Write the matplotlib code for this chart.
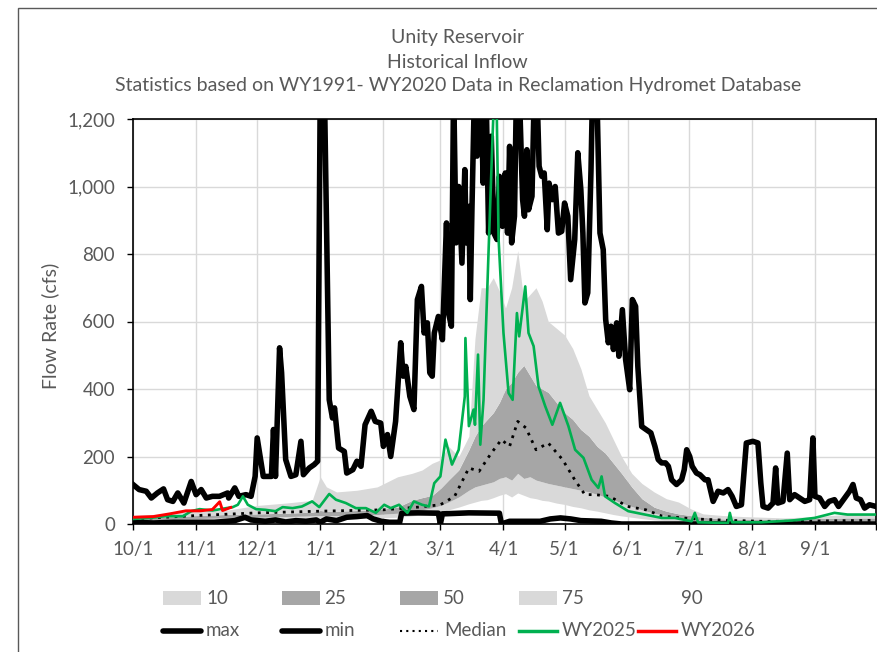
import matplotlib.pyplot as plt
from matplotlib.patches import Rectangle
from matplotlib.lines import Line2D

plt.rcParams['font.family'] = ['Lato', 'DejaVu Sans']

# day of water year (0 = 10/1)
month_days = [0, 31, 61, 92, 123, 151, 182, 212, 243, 273, 304, 335, 365]
month_labels = ['10/1', '11/1', '12/1', '1/1', '2/1', '3/1', '4/1', '5/1', '6/1', '7/1', '8/1', '9/1', '']

band_day = [0, 15, 31, 45, 61, 75, 88, 92, 95, 100, 110, 120, 130, 137, 142, 147, 151, 155, 160,
            165, 168, 171, 174, 177, 180, 183, 186, 189, 192, 195, 198, 201, 204, 208, 212, 216,
            220, 224, 228, 232, 236, 240, 245, 250, 256, 262, 268, 274, 280, 290, 300, 310, 320,
            335, 350, 365]
p10 = [5, 6, 8, 10, 12, 14, 15, 15, 15, 16, 17, 18, 20, 24, 27, 30, 35, 42, 50,
       60, 65, 70, 72, 78, 85, 90, 80, 92, 85, 78, 75, 70, 68, 62, 58, 52,
       48, 42, 38, 33, 28, 24, 20, 16, 12, 10, 8, 7, 6, 5, 4, 4, 5,
       5, 6, 6]
p25 = [10, 12, 16, 18, 20, 22, 24, 25, 25, 25, 27, 28, 32, 38, 42, 48, 55, 65, 80,
       100, 110, 115, 120, 125, 135, 140, 130, 150, 135, 140, 130, 125, 120, 115, 110, 105,
       100, 95, 88, 80, 72, 62, 52, 42, 32, 24, 16, 12, 10, 8, 7, 7, 8,
       9, 10, 10]
p75 = [18, 20, 25, 28, 30, 32, 35, 40, 38, 38, 40, 42, 50, 70, 78, 85, 105, 130, 160,
       220, 260, 290, 310, 330, 360, 400, 420, 450, 470, 440, 410, 400, 390, 360, 330, 310,
       280, 260, 230, 210, 180, 150, 110, 75, 50, 38, 30, 25, 20, 15, 14, 13, 14,
       16, 18, 18]
p90 = [25, 30, 38, 40, 55, 62, 70, 140, 110, 95, 100, 110, 140, 150, 160, 180, 190, 230, 200,
       260, 550, 700, 700, 730, 690, 640, 700, 810, 660, 680, 700, 660, 600, 580, 560, 520,
       460, 380, 340, 300, 250, 200, 150, 120, 95, 75, 65, 45, 30, 25, 22, 20, 18,
       22, 28, 28]

median_day = [0, 31, 61, 92, 123, 140, 151, 158, 165, 170, 176, 181, 185, 189, 193, 198, 204,
              211, 217, 222, 227, 234, 243, 252, 260, 276, 292, 309, 325, 365]
median = [15, 25, 33, 38, 42, 50, 57, 82, 166, 156, 210, 250, 230, 304, 285, 220, 240,
          191, 131, 87, 87, 82, 52, 42, 23, 15, 11, 8, 8, 11]

max_day = [0, 3, 6.5, 9, 12, 15, 17, 19.6, 22, 25, 28.6, 31, 33.5, 36, 39, 42.5, 46.5, 47, 50, 52,
           55.5, 58, 60, 61, 64, 68, 69, 70, 72, 73, 75, 77.6, 80, 82.5, 83.7, 86.6, 89, 90.7, 92,
           94, 96.4, 98, 99, 101, 103.8, 105, 108, 110, 112, 114, 117, 119, 121.7, 123, 125,
           126.6, 129, 131.5, 132.7, 134, 136, 138, 139.7, 141.7, 143, 144.6, 145.8, 147, 148,
           150, 152, 154, 155, 156.4, 157.5, 158.7, 160, 161.6, 163, 163.7, 165, 165.7, 166.5,
           167.8, 169, 169.8, 171, 172, 173.4, 174.7, 176, 177.3, 178.8, 180, 181.5, 182.9, 184,
           185, 186, 187.4, 188.4, 189.7, 191.4, 192.3, 193.5, 194.3, 196, 197.2, 198.4, 199.5,
           200.8, 202, 203.5, 204.4, 206, 207.4, 209, 210.6, 212, 213.6, 215, 217, 218.5, 220,
           221, 222, 223.4, 225, 225.8, 227.8, 229.4, 231, 232.2, 233.5, 234.8, 236, 237.6,
           238.7, 240.4, 242, 244, 245.3, 246.9, 248, 249.9, 252, 254.4, 256.4, 258, 259.7,
           261.6, 263, 264.6, 267, 269.5, 270.8, 272, 273.5, 274.7, 276.8, 278.5, 281, 282.5,
           285, 287.4, 290, 292.3, 294.3, 296.4, 298.9, 301.3, 304.5, 307, 308.4, 309.5, 312,
           314.4, 315.7, 316.8, 319.3, 321.4, 322.6, 325, 327.5, 330, 332.4, 334, 335, 337.3,
           339.8, 342, 344.6, 346.6, 349.6, 352, 353.7, 355.3, 357.4, 359.4, 361.8, 365]
max_flow = [117, 102, 97, 77, 92, 104, 72, 67, 92, 62, 126, 87, 102, 77, 82, 82, 92, 77, 107, 82,
            87, 82, 141, 255, 141, 141, 280, 141, 522, 448, 191, 141, 146, 245, 146, 166, 176, 186,
            1300, 1300, 368, 314, 344, 225, 215, 151, 161, 186, 171, 294, 334, 304, 299, 230, 265,
            200, 304, 537, 438, 467, 378, 339, 665, 704, 566, 596, 448, 438, 566,
            615, 546, 892, 625, 586, 1300, 833, 1000, 773, 1050, 833, 941, 665, 931,
            1300, 1090, 1300, 1300, 1010, 1300, 862, 1149, 862, 843, 1030, 882, 1040, 862,
            1119, 833, 912, 1300, 1300, 961, 912, 1109, 931, 971, 1300, 1300, 1060,
            1030, 1040, 872, 1010, 961, 1000, 862, 867, 951, 912, 724, 843, 1100, 991,
            862, 655, 685, 1050, 1300, 1300, 862, 813, 606, 537, 586, 517, 596,
            497, 635, 487, 398, 665, 645, 467, 289, 280, 270, 230, 191, 181,
            181, 171, 131, 117, 131, 161, 220, 200, 171, 151, 146, 131, 131,
            67, 97, 92, 102, 82, 52, 57, 240, 245, 240, 122, 52, 47,
            62, 166, 62, 67, 210, 72, 87, 77, 67, 72, 255, 82, 77,
            52, 67, 72, 52, 77, 97, 117, 77, 72, 47, 57, 52]

min_day = [0, 10, 20, 30, 40, 50, 55, 58, 65, 70, 75, 80, 85, 90, 92, 95, 100, 105, 110, 115,
           118, 122, 126, 131, 132, 140, 150, 151, 152, 165, 180, 181, 185, 200, 205, 210, 215,
           220, 230, 235, 240, 365]
min_flow = [5, 3, 5, 5, 5, 10, 20, 12, 8, 12, 6, 10, 8, 12, 5, 15, 10, 20, 22, 25,
            15, 8, 5, 5, 32, 33, 32, 0, 30, 33, 32, 0, 8, 8, 15, 18, 15,
            10, 8, 3, 0, 0]

wy2025_day = [0, 8, 16, 24.5, 28.6, 32.7, 39, 45.8, 49, 51.5, 54, 56.4, 60.5, 65, 70, 73.5, 78.4,
              83, 88, 91.5, 96.4, 99.7, 104.6, 109.5, 114.4, 119.3, 123.4, 126.6, 130.7, 134.8,
              138, 142, 145.4, 148, 151, 153.5, 156.7, 160, 163, 163.3, 165, 167.3, 168, 169.5,
              170.6, 172.2, 174.7, 176.7, 177.6, 178.5, 179.6, 182, 184.5, 186.5, 188.6, 189.7,
              192.7, 194.3, 196.8, 199.2, 202.5, 206, 209.8, 213.9, 217.2, 221.3, 225.3, 228.6,
              230.2, 231.9, 236.8, 243.3, 251.5, 259.7, 266.2, 274.4, 276, 277.6, 292.3, 293.2,
              294.3, 308.7, 325, 334.8, 344.6, 351, 365]
wy2025 = [15, 18, 23, 23, 38, 44, 40, 47, 50, 57, 82, 57, 44, 42, 38, 50, 47,
          52, 67, 50, 89, 72, 62, 47, 47, 33, 57, 47, 57, 33,
          67, 57, 52, 121, 141, 250, 176, 220, 378, 551, 290, 339, 294, 502,
          235, 368, 813, 1159, 1300, 1300, 843, 566, 388, 368, 625, 556,
          704, 566, 527, 408, 349, 294, 359, 290, 220, 196, 131, 107,
          141, 82, 62, 38, 28, 18, 18, 8, 33, 5, 3, 33,
          5, 5, 11, 18, 33, 28, 28]

wy2026_day = [0, 10, 18, 26, 33, 39, 42.6, 44, 48]
wy2026 = [20, 22, 30, 39, 39, 43, 66, 40, 49]

fig = plt.figure(figsize=(8.77, 6.52), dpi=100)
ax = fig.add_axes([133 / 877, 1 - 524 / 652, 743 / 877, 405 / 652])

light = '#D9D9D9'
dark = '#A6A6A6'
ax.fill_between(band_day, p10, p25, color=light, lw=0, zorder=1)
ax.fill_between(band_day, p25, p75, color=dark, lw=0, zorder=1)
ax.fill_between(band_day, p75, p90, color=light, lw=0, zorder=1)

ax.plot(median_day, median, color='black', lw=2, ls=(0, (1, 2)), zorder=2)
ax.plot(max_day, max_flow, color='black', lw=4, solid_joinstyle='round', zorder=3)
ax.plot(min_day, min_flow, color='black', lw=4, solid_joinstyle='round', zorder=3)
ax.plot(wy2025_day, wy2025, color='#00B050', lw=1.9, zorder=4)
ax.plot(wy2026_day, wy2026, color='#FF0000', lw=2.1, zorder=5)

ax.set_xlim(0, 365)
ax.set_ylim(0, 1200)
ax.set_xticks(month_days)
ax.set_xticklabels(month_labels)
ax.set_yticks(range(0, 1201, 200))
ax.set_yticklabels(['{:,}'.format(v) for v in range(0, 1201, 200)])
ax.grid(True, color='#D9D9D9', lw=1)
ax.set_axisbelow(True)
for s in ax.spines.values():
    s.set_color('black')
    s.set_linewidth(1.2)
ax.tick_params(axis='both', direction='out', length=4, width=1, colors='black',
               labelcolor='#595959', labelsize=13.5)
ax.tick_params(axis='x', pad=8)
ax.tick_params(axis='y', pad=9)
ax.set_ylabel('Flow Rate (cfs)', color='#595959', fontsize=14)
ax.yaxis.set_label_coords(-0.099, 0.49)

title_lines = ['Unity Reservoir', 'Historical Inflow',
               'Statistics based on WY1991- WY2020 Data in Reclamation Hydromet Database']
for y, t in zip([38, 62, 85], title_lines):
    fig.text(0.522, 1 - y / 652, t, ha='center', va='center', color='#595959', fontsize=14)

# chart border
fig.patches.append(Rectangle((18 / 877, -0.1), 1.2, 1 - 8 / 652 + 0.1, transform=fig.transFigure,
                             fill=False, edgecolor='#595959', lw=1))

# legend drawn in pixel coords
lax = fig.add_axes([0, 0, 1, 1])
lax.set_xlim(0, 877)
lax.set_ylim(652, 0)
lax.axis('off')
row1, row2 = 598, 631
sw_x = [163, 282, 400, 519]
sw_c = [light, dark, dark, light]
for x, c in zip(sw_x, sw_c):
    lax.add_patch(Rectangle((x, row1 - 7), 38, 14, color=c, lw=0))
for x, t in zip([206, 324, 443, 562, 681], ['10', '25', '50', '75', '90']):
    lax.text(x, row1, t, va='center', ha='left', color='#595959', fontsize=13.5)

leg_lines = [
    dict(color='black', lw=4, ls='-', solid_capstyle='round'),
    dict(color='black', lw=4, ls='-', solid_capstyle='round'),
    dict(color='black', lw=1.5, ls=(0, (1, 2))),
    dict(color='#00B050', lw=2.5, ls='-'),
    dict(color='#FF0000', lw=2.5, ls='-'),
]
for x, t, st in zip(sw_x + [638], ['max', 'min', 'Median', 'WY2025', 'WY2026'], leg_lines):
    lax.add_line(Line2D([x, x + 38], [row2, row2], **st))
    lax.text(x + 43 if t != 'Median' else x + 44, row2, t, va='center', ha='left',
             color='#595959', fontsize=13.5)

fig.savefig('out.png', dpi=100)
